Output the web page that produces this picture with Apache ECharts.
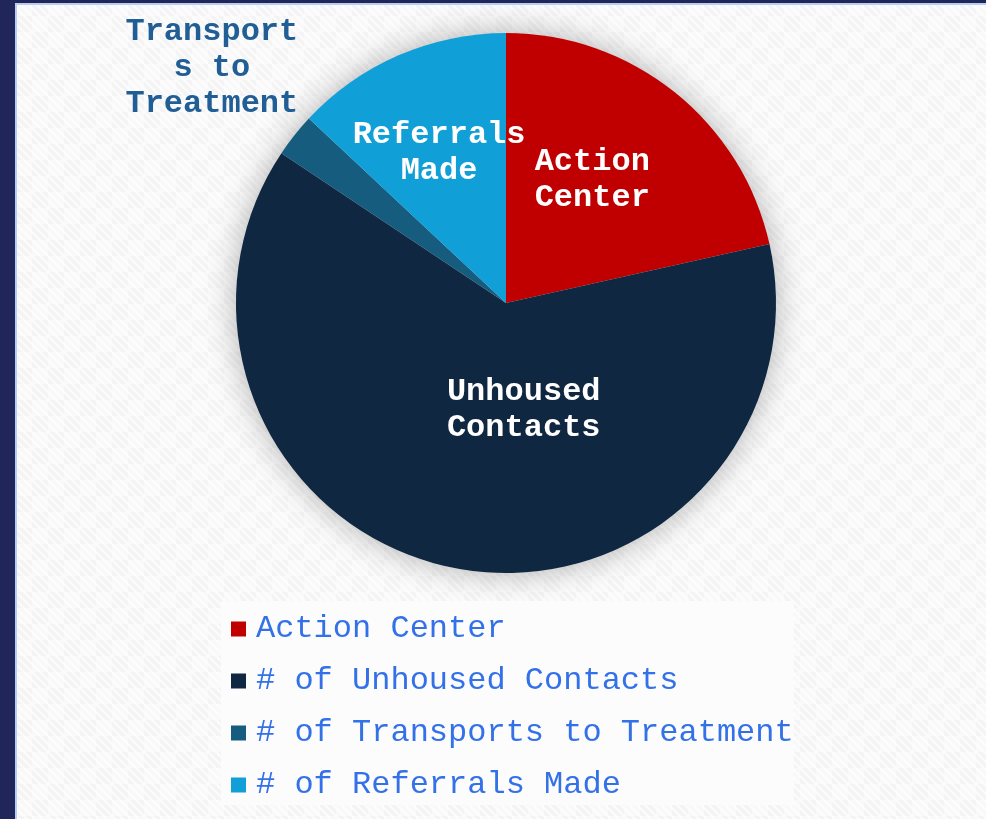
<!DOCTYPE html>
<html lang="en">
<head>
<meta charset="UTF-8">
<title>Outreach</title>
<style>
	html, body { margin: 0; padding: 0; background: #20265a; }
	#main { position: absolute; left: 0; top: 0; width: 986px; height: 819px; }
</style>
</head>
<body>
	<div id="main"></div>

	<script src="https://cdn.jsdelivr.net/npm/echarts@6/dist/echarts.min.js"></script>
	<script type="text/javascript">
		// data
		var legendNames = ['Action Center', '# of Unhoused Contacts', '# of Transports to Treatment', '# of Referrals Made'];
		var sliceLabels = ['Action\nCenter', 'Unhoused\nContacts', 'Transport\ns to\nTreatment', 'Referrals\nMade'];
		var values = [330, 965, 40, 200];
		var colors = ['#c00000', '#0f2741', '#165c7f', '#119fd8'];

		// label nudges (px) from the default inside spot
		var labelShift = [[0, -15], [43, -29], [-186, -149], [-12, -23]];

		// hatched backdrop
		function makePattern() {
			var c = document.createElement('canvas');
			c.width = 32; c.height = 32;
			var g = c.getContext('2d');
			g.fillStyle = '#f9f9f9';
			g.fillRect(0, 0, 32, 32);
			g.fillStyle = '#f4f4f4';
			g.fillRect(0, 0, 16, 16);
			g.fillRect(16, 16, 16, 16);
			g.strokeStyle = 'rgba(255,255,255,0.7)';
			g.lineWidth = 2;
			for (var k = -32; k < 64; k += 8) {
				g.beginPath();
				g.moveTo(k, 0);
				g.lineTo(k + 32, 32);
				g.stroke();
			}
			return c;
		}

		var myChart = echarts.init(document.getElementById('main'));

		var pieData = [];
		for (var i = 0; i < values.length; i++) {
			var item = { name: legendNames[i], value: values[i], itemStyle: { color: colors[i] } };
			if (i === 2) {
				item.label = { color: '#215e96' };
			}
			pieData.push(item);
		}

		var option = {
			animation: false,
			backgroundColor: { image: makePattern(), repeat: 'repeat' },
			graphic: [
				{ type: 'rect', left: 0, top: 0, shape: { width: 15, height: 819 }, style: { fill: '#20265a' }, z: 100 },
				{ type: 'rect', left: 0, top: 0, shape: { width: 986, height: 3 }, style: { fill: '#20265a' }, z: 100 },
				{ type: 'rect', left: 15, top: 3, shape: { width: 2, height: 816 }, style: { fill: '#b7cdf2' }, z: 100 },
				{ type: 'rect', left: 15, top: 3, shape: { width: 971, height: 2 }, style: { fill: '#b7cdf2' }, z: 100 }
			],
			legend: {
				data: legendNames,
				orient: 'vertical',
				left: 221,
				top: 601,
				width: 570,
				backgroundColor: '#fcfcfc',
				padding: [12, 0, 4, 10],
				itemWidth: 15,
				itemHeight: 15,
				itemGap: 20,
				icon: 'rect',
				selectedMode: false,
				textStyle: {
					fontFamily: 'Liberation Mono, Courier New, monospace',
					fontSize: 32,
					lineHeight: 32,
					color: '#3371e8',
					padding: [0, 0, 0, 5]
				}
			},
			series: [{
				// soft halo behind the pie
				type: 'pie',
				silent: true,
				center: [506, 303],
				radius: 270,
				label: { show: false },
				labelLine: { show: false },
				itemStyle: {
					color: '#dcdcdc',
					shadowBlur: 32,
					shadowColor: 'rgba(0,0,0,0.3)'
				},
				data: [{ name: 'halo', value: 1 }],
				z: 1
			}, {
				type: 'pie',
				center: [506, 303],
				radius: 270,
				startAngle: 90,
				clockwise: true,
				z: 2,
				itemStyle: { borderWidth: 0 },
				label: {
					show: true,
					position: 'inside',
					formatter: function (p) { return sliceLabels[p.dataIndex]; },
					fontFamily: 'Liberation Mono, Courier New, monospace',
					fontWeight: 'bold',
					fontSize: 32,
					lineHeight: 36,
					color: '#ffffff',
					align: 'center'
				},
				labelLine: { show: false },
				labelLayout: function (p) {
					var s = labelShift[p.dataIndex];
					return { dx: s[0], dy: s[1] };
				},
				emphasis: { disabled: true },
				data: pieData
			}]
		};

		myChart.setOption(option);
	</script>
</body>
</html>
